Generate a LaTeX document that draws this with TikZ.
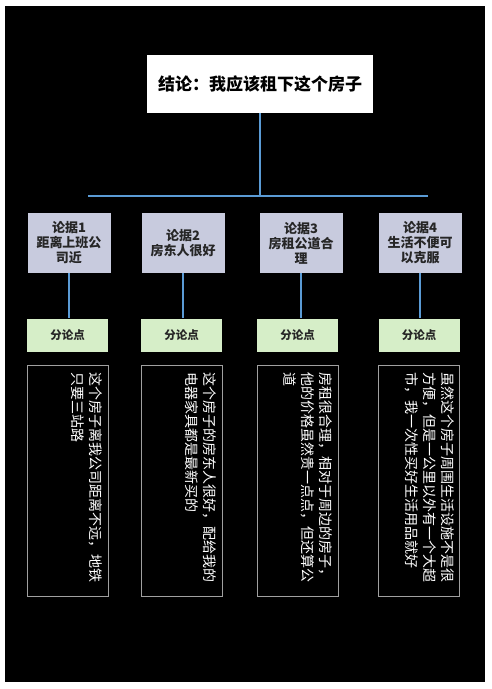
\documentclass[tikz,border=0pt]{standalone}
\usepackage{fontspec}
\newfontfamily\cjk{Noto Sans CJK SC}
\usetikzlibrary{positioning}
\definecolor{myblue}{RGB}{91,155,213}
\definecolor{mygray}{RGB}{200,203,222}
\definecolor{mygreen}{RGB}{214,238,200}
\definecolor{myedge}{RGB}{160,160,160}
\tikzset{
  conclbox/.style={fill=white, minimum width=226pt, minimum height=58pt,
    font=\cjk\bfseries\fontsize{17}{20}\selectfont},
  argbox/.style={fill=mygray, minimum width=83pt, minimum height=60pt, align=center,
    text=black!85, font=\cjk\bfseries\fontsize{13}{15}\selectfont},
  ptbox/.style={fill=mygreen, minimum width=81pt, minimum height=33pt,
    text=black!85, font=\cjk\bfseries\fontsize{11.5}{13}\selectfont},
  detbox/.style={draw=myedge, line width=0.8pt, fill=black, minimum width=81pt, minimum height=231pt},
  dettext/.style={rotate=-90, anchor=north west, align=left, inner sep=0pt,
    text=white, font=\cjk\fontsize{14}{18}\selectfont},
  link/.style={draw=myblue, line width=2.5pt}
}

\begin{document}
\begin{tikzpicture}[x=1pt,y=-1pt]
\useasboundingbox (0,0) rectangle (492,689);
\fill[black] (5,6) rectangle (485,682);

%conclusion
\node[conclbox] (concl) at (260,84) {结论：我应该租下这个房子};
\coordinate (barL) at (88,196);
\coordinate (barR) at (428,196);
\draw[link] (barL) -- (barR);
\draw[link] (concl.south) -- (concl.south |- barL);

%arguments
\foreach \i/\ax/\px/\txt in {1/69/67.5/{论据1\\距离上班公\\司近},
                             2/183/181.5/{论据2\\房东人很好},
                             3/301/297.5/{论据3\\房租公道合\\理},
                             4/420/419/{论据4\\生活不便可\\以克服}}{
  \node[argbox] (arg\i) at (\ax,243) {\txt};
  \node[ptbox] (pt\i) at (\px,335) {分论点};
  \node[detbox] (det\i) at (\px,481) {};
  \draw[link] (arg\i.south) -- (arg\i.south |- pt\i.north);
}

\node[dettext] (txt1) at ([xshift=-6pt,yshift=-7pt]det1.north east)
  {这个房子离我公司距离不远，地铁\\只要三站路};
\node[dettext] (txt2) at ([xshift=-6pt,yshift=-7pt]det2.north east)
  {这个房子的房东人很好，配给我的\\电器家具都是最新买的};
\node[dettext] (txt3) at ([xshift=-6pt,yshift=-7pt]det3.north east)
  {房租很合理，相对于周边的房子，\\他的价格虽然贵一点点，但还算公\\道};
\node[dettext] (txt4) at ([xshift=-5pt,yshift=-7pt]det4.north east)
  {虽然这个房子周围生活设施不是很\\方便，但是一公里以外有一个大超\\市，我一次性买好生活用品就好};
\end{tikzpicture}
\end{document}
